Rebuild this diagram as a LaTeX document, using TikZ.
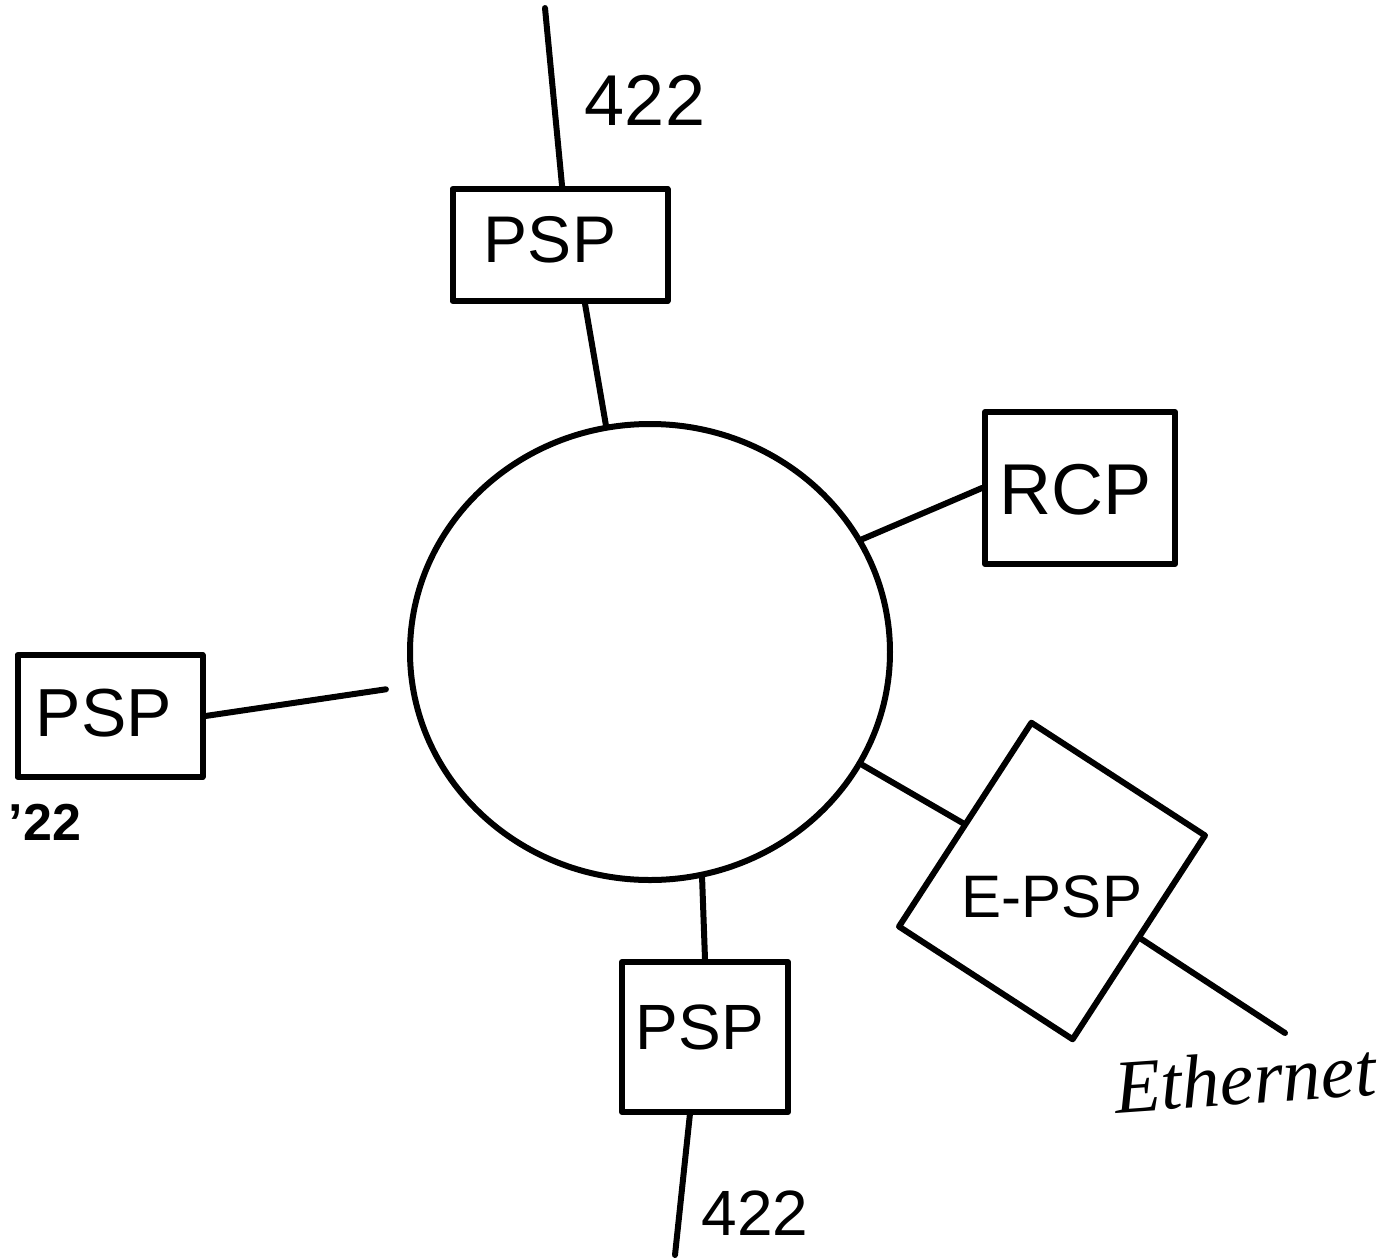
\documentclass[tikz,border=0pt]{standalone}
\usepackage{fontspec}
\setmainfont{Liberation Sans}
\newfontfamily\handfont{Liberation Serif}
\usetikzlibrary{shapes.geometric}
\begin{document}
\begin{tikzpicture}[x=0.5pt,y=-0.5pt, line width=3pt, line cap=round, line join=round,
  box/.style={draw, rectangle, inner sep=0pt},
  ring/.style={draw, ellipse, inner sep=0pt},
  lbl/.style={inner sep=0pt},
  wire/.style={draw}]
\useasboundingbox (0,0) rectangle (1389,1259);
% central ring
\node[ring, minimum width=240pt, minimum height=228pt] (ring) at (650,652) {};
% boxes
\node[box, minimum width=107.5pt, minimum height=56pt] (psptop) at (560,245) {};
\node[lbl, font=\fontsize{33}{33}\selectfont] (psptoptxt) at (550,240) {PSP};
\node[box, minimum width=95pt, minimum height=76pt] (rcp) at (1080,488) {};
\node[lbl, font=\fontsize{36}{36}\selectfont] (rcptxt) at (1076,490) {RCP};
\node[box, minimum width=92.5pt, minimum height=61pt] (pspleft) at (110,716) {};
\node[lbl, font=\fontsize{34}{34}\selectfont] (psplefttxt) at (104,713) {PSP};
\node[box, minimum width=83pt, minimum height=75pt] (pspbot) at (705,1037) {};
\node[lbl, font=\fontsize{32}{32}\selectfont] (pspbottxt) at (700,1027) {PSP};
\node[box, rotate=-33, minimum width=103.5pt, minimum height=121.5pt] (epsp) at (1052,881) {};
\node[lbl, font=\fontsize{30}{30}\selectfont] (epsptxt) at (1052,897) {E-PSP};
% free ends
\coordinate (topend) at (545,8);
\coordinate (botend) at (675,1255);
\coordinate (ethend) at (1285,1033);
% connectors
\draw[wire] (topend) -- (psptop.88);
\draw[wire] (psptop.-67) -- (ring.101);
\draw[wire] (ring.28) -- (rcp.west);
\draw[wire, shorten >=12pt] (pspleft.east) -- (ring.188);
\draw[wire] (ring.-28) -- (epsp.west);
\draw[wire] (epsp.east) -- (ethend);
\draw[wire] (ring.-77) -- (pspbot.north);
\draw[wire] (pspbot.-101) -- (botend);
% labels
\node[lbl, font=\fontsize{36}{36}\selectfont] (l422top) at (645,100) {422};
\node[lbl, font=\fontsize{32}{32}\selectfont] (l422bot) at (755,1213) {422};
\node[lbl, font=\bfseries\fontsize{26}{26}\selectfont] (l22) at (45,822) {'22};
\node[lbl, font=\handfont\itshape\fontsize{38}{38}\selectfont, rotate=4] (eth) at (1245,1078) {Ethernet};
\end{tikzpicture}
\end{document}
